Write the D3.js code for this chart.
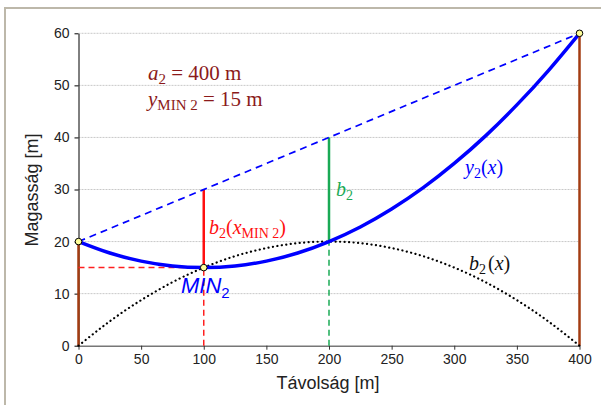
<!DOCTYPE html>
<html>
  <head>
    <meta charset="utf-8">
    <script src="https://d3js.org/d3.v7.min.js"></script>
    <style>
      body { margin: 0; background: #fff; }
    </style>
  </head>
  <body>
    <svg id="chart" width="601" height="405"></svg>
    <script>
      // Values
      const xs = [0, 25, 50, 75, 100, 125, 150, 175, 200, 225, 250, 275, 300, 325, 350, 375, 400];
      const y2 = [20, 17.8, 16.25, 15.3, 15, 15.3, 16.25, 17.8, 20, 22.8, 26.25, 30.3, 35, 40.3, 46.25, 52.8, 60];
      const b2 = [0, 4.7, 8.75, 12.2, 15, 17.2, 18.75, 19.7, 20, 19.7, 18.75, 17.2, 15, 12.2, 8.75, 4.7, 0];
      const chord = [[0, 20], [400, 60]];
      const anchors = [[0, 20], [100, 15], [400, 60]];
      const xTicks = [0, 50, 100, 150, 200, 250, 300, 350, 400];
      const yTicks = [0, 10, 20, 30, 40, 50, 60];

      const sans = "Arial, 'Liberation Sans', sans-serif";
      const serif = "'Times New Roman', 'Liberation Serif', serif";

      const svg = d3.select("#chart");

      // outer frame
      svg.append("path")
        .attr("d", "M5,405 V8 H601")
        .attr("fill", "none")
        .attr("stroke", "#bdb8aa")
        .attr("stroke-width", 2);

      const x = d3.scaleLinear().domain([0, 400]).range([78.5, 579.5]);
      const y = d3.scaleLinear().domain([0, 60]).range([345.7, 33.3]);

      // grid
      svg.append("g")
        .selectAll("line")
        .data(yTicks.slice(1))
        .enter()
        .append("line")
        .attr("x1", x(0)).attr("x2", x(400))
        .attr("y1", d => y(d)).attr("y2", d => y(d))
        .attr("stroke", "#c8c8c8")
        .attr("stroke-dasharray", "2,1");

      // axes
      const xAxis = svg.append("g")
        .attr("transform", `translate(0,${y(0)})`)
        .attr("font-size", 14)
        .attr("font-family", sans)
        .call(d3.axisBottom(x).tickValues(xTicks).tickSize(4).tickPadding(4).tickSizeOuter(0));
      xAxis.select(".domain").attr("stroke", "#777").attr("stroke-width", 1.5);
      xAxis.selectAll(".tick line").attr("stroke", "#333");

      const yAxis = svg.append("g")
        .attr("transform", `translate(${x(0)},0)`)
        .call(d3.axisLeft(y).tickValues(yTicks).tickSize(4).tickPadding(5).tickSizeOuter(0));
      yAxis.select(".domain").attr("stroke", "#000");
      yAxis.selectAll(".tick line").attr("stroke", "#000");

      xAxis.attr("font-size", 14).attr("font-family", sans);
      yAxis.attr("font-size", 14).attr("font-family", sans);
      svg.selectAll(".tick text").attr("fill", "#222");

      svg.append("text")
        .attr("x", 328).attr("y", 389)
        .attr("text-anchor", "middle")
        .style("font-family", sans)
        .style("font-size", "18px")
        .attr("fill", "#222")
        .text("Távolság [m]");

      svg.append("text")
        .attr("transform", "translate(38,190) rotate(-90)")
        .attr("text-anchor", "middle")
        .style("font-family", sans)
        .style("font-size", "18px")
        .attr("fill", "#222")
        .text("Magasság [m]");

      const vline = (xv, y0, y1, color, w, dash) =>
        svg.append("line")
          .attr("x1", x(xv)).attr("x2", x(xv))
          .attr("y1", y(y0)).attr("y2", y(y1))
          .attr("stroke", color)
          .attr("stroke-width", w)
          .attr("stroke-dasharray", dash);

      // guide lines
      vline(0, 0, 20, "#a33c12", 2.5, null);
      vline(400, 0, 60, "#a33c12", 2.5, null);
      vline(100, 0, 15, "#ff2020", 1.5, "6,4");
      vline(200, 0, 20, "#1aaa55", 1.5, "6,4");
      vline(100, 15, 30, "#ff1010", 2.5, null);
      vline(200, 20, 40, "#1aaa55", 2.5, null);
      svg.append("line")
        .attr("x1", x(0)).attr("x2", x(100))
        .attr("y1", y(15)).attr("y2", y(15))
        .attr("stroke", "#ff2020")
        .attr("stroke-width", 1.5)
        .attr("stroke-dasharray", "6,4");

      const line = d3.line().x(d => x(d[0])).y(d => y(d[1])).curve(d3.curveNatural);

      // chord
      svg.append("path")
        .attr("d", line(chord))
        .attr("fill", "none")
        .attr("stroke", "#0000ff")
        .attr("stroke-width", 1.7)
        .attr("stroke-dasharray", "7,5");

      // b2(x) dotted
      svg.append("path")
        .attr("d", line(xs.map((v, i) => [v, b2[i]])))
        .attr("fill", "none")
        .attr("stroke", "#000")
        .attr("stroke-width", 2.2)
        .attr("stroke-linecap", "round")
        .attr("stroke-dasharray", "0.1,4.4");

      // y2(x)
      svg.append("path")
        .attr("d", line(xs.map((v, i) => [v, y2[i]])))
        .attr("fill", "none")
        .attr("stroke", "#0000ff")
        .attr("stroke-width", 3.5);

      // anchor points
      svg.append("g")
        .selectAll("circle")
        .data(anchors)
        .enter()
        .append("circle")
        .attr("cx", d => x(d[0]))
        .attr("cy", d => y(d[1]))
        .attr("r", 3.3)
        .attr("fill", "#ffff99")
        .attr("stroke", "#000")
        .attr("stroke-width", 1);

      // labels: parts are {t, i: italic, dy: shift, fs: font size}
      const label = (px, py, color, parts, size) => {
        const t = svg.append("text")
          .attr("x", px).attr("y", py)
          .attr("fill", color)
          .style("font-family", serif)
          .style("font-size", size + "px");
        parts.forEach(p => {
          const s = t.append("tspan").text(p.t);
          if (p.i) s.style("font-style", "italic");
          if (p.dy) s.attr("dy", p.dy);
          if (p.dx) s.attr("dx", p.dx);
          if (p.fs) s.style("font-size", p.fs + "px");
        });
        return t;
      };

      label(148, 80, "#8b1a1a", [
        { t: "a", i: true }, { t: "2", dy: 4, fs: 15 }, { t: " = 400 m", dy: -4 }
      ], 21);
      label(148, 106, "#8b1a1a", [
        { t: "y", i: true }, { t: "MIN 2", dy: 4, fs: 15 }, { t: " = 15 m", dy: -4 }
      ], 21);
      label(465, 174, "#0000ff", [
        { t: "y", i: true }, { t: "2", dy: 4, fs: 14 }, { t: "(", dy: -4 }, { t: "x", i: true }, { t: ")" }
      ], 20);
      label(336, 196, "#1aaa55", [
        { t: "b", i: true }, { t: "2", dy: 4, fs: 14 }
      ], 20);
      label(209, 234, "#ff1010", [
        { t: "b", i: true }, { t: "2", dy: 4, fs: 14 }, { t: "(", dy: -4 }, { t: "x", i: true },
        { t: "MIN 2", dy: 4, fs: 14 }, { t: ")", dy: -4 }
      ], 20);
      label(469, 270, "#111", [
        { t: "b", i: true }, { t: "2", dy: 4, fs: 14 }, { t: "(", dy: -4, dx: 2 }, { t: "x", i: true }, { t: ")" }
      ], 20);

      const mn = svg.append("text")
        .attr("x", 181).attr("y", 293)
        .attr("fill", "#0000ff")
        .style("font-family", sans)
        .style("font-size", "22px")
        .style("font-style", "italic");
      mn.append("tspan").text("MIN");
      mn.append("tspan").text("2").attr("dy", 5).style("font-size", "15px").style("font-style", "normal");
    </script>
  </body>
</html>
